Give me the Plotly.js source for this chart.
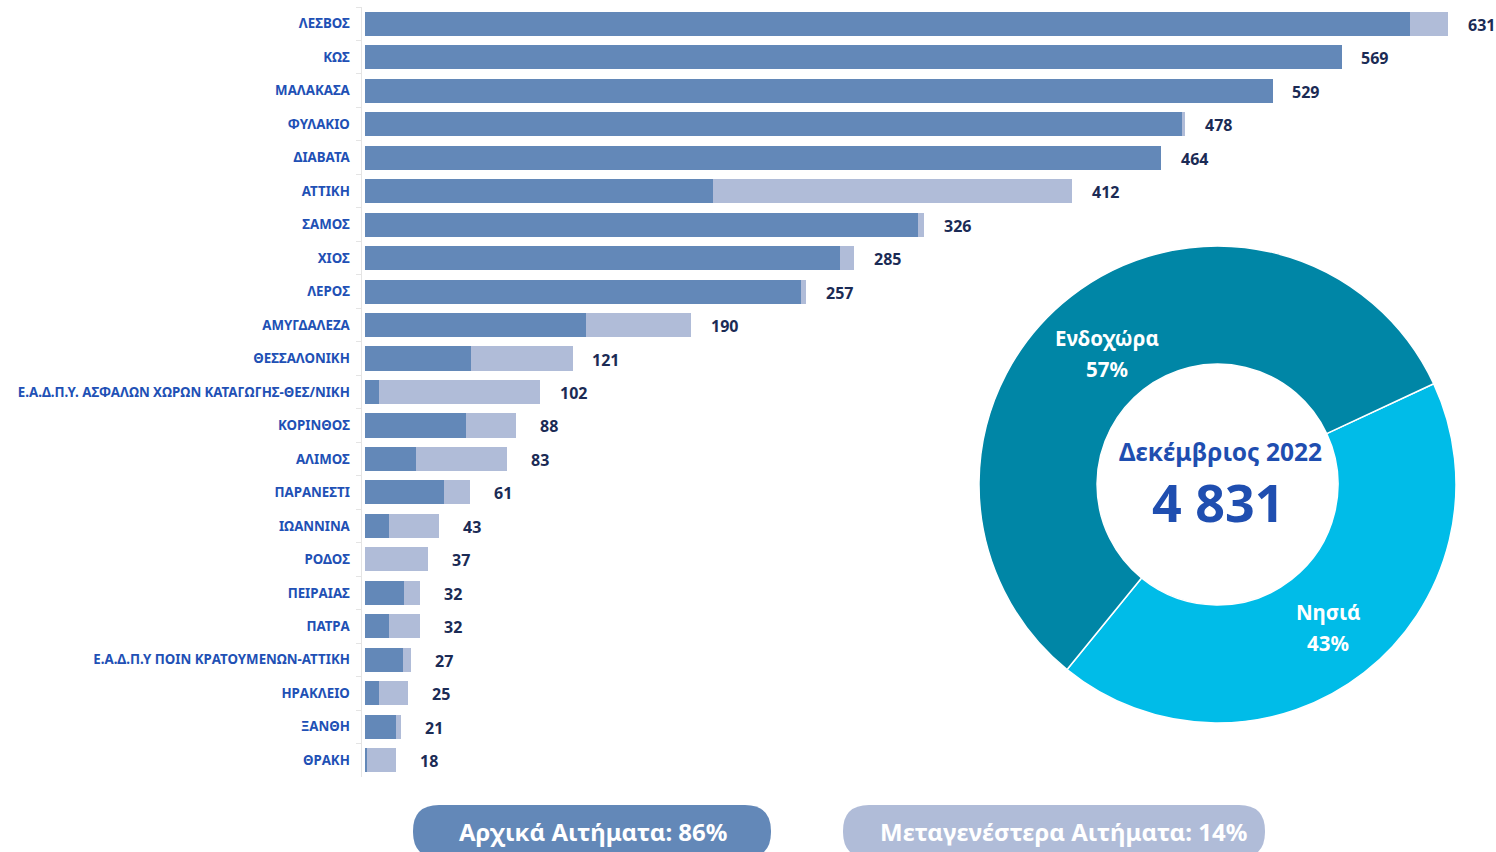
<!DOCTYPE html>
<html>
<head>
<meta charset="utf-8">
<script src="https://cdn.plot.ly/plotly-3.0.1.min.js"></script>
<style>html,body{margin:0;padding:0;background:#fff;}#chart{width:1496px;height:852px;}</style>
</head>
<body>
<div id="chart"></div>
<script>
const categories = ["ΛΕΣΒΟΣ","ΚΩΣ","ΜΑΛΑΚΑΣΑ","ΦΥΛΑΚΙΟ","ΔΙΑΒΑΤΑ","ΑΤΤΙΚΗ","ΣΑΜΟΣ","ΧΙΟΣ","ΛΕΡΟΣ","ΑΜΥΓΔΑΛΕΖΑ","ΘΕΣΣΑΛΟΝΙΚΗ","Ε.Α.Δ.Π.Υ. ΑΣΦΑΛΩΝ ΧΩΡΩΝ ΚΑΤΑΓΩΓΗΣ-ΘΕΣ/ΝΙΚΗ","ΚΟΡΙΝΘΟΣ","ΑΛΙΜΟΣ","ΠΑΡΑΝΕΣΤΙ","ΙΩΑΝΝΙΝΑ","ΡΟΔΟΣ","ΠΕΙΡΑΙΑΣ","ΠΑΤΡΑ","Ε.Α.Δ.Π.Υ ΠΟΙΝ ΚΡΑΤΟΥΜΕΝΩΝ-ΑΤΤΙΚΗ","ΗΡΑΚΛΕΙΟ","ΞΑΝΘΗ","ΘΡΑΚΗ"];
const initialRequests = [609,569,529,476,464,203,322,277,254,129,62,8,59,30,46,14,0,23,14,22,8,18,1];
const laterRequests   = [22,0,0,2,0,209,4,8,3,61,59,94,29,53,15,29,37,9,18,5,17,3,17];
const totals          = [631,569,529,478,464,412,326,285,257,190,121,102,88,83,61,43,37,32,32,27,25,21,18];
const pieLabels = ["Νησιά","Ενδοχώρα"];
const pieValues = [2068,2763];
const centerTitle = "Δεκέμβριος 2022";
const centerTotal = "4 831";
const legendTexts = ["Αρχικά Αιτήματα: 86%","Μεταγενέστερα Αιτήματα: 14%"];

const W = 1496, H = 852;
const px = x => x / W;
const py = y => 1 - y / H;
const FONT = "Noto Sans, Open Sans, sans-serif";
const DARK = "#6388b8", LIGHT = "#b0bcd8";

const traces = [
  {type:"bar", orientation:"h", y:categories, x:initialRequests, marker:{color:DARK}, hoverinfo:"x+y", name:"Αρχικά"},
  {type:"bar", orientation:"h", y:categories, x:laterRequests, marker:{color:LIGHT}, hoverinfo:"x+y", name:"Μεταγενέστερα"},
  {type:"pie", labels:pieLabels, values:pieValues, sort:false, direction:"clockwise", rotation:65,
   hole:0.505, marker:{colors:["#00bce8","#0086a6"], line:{color:"#ffffff", width:1.5}},
   textinfo:"none",
   domain:{x:[px(979),px(1456)], y:[py(723),py(246)]}, showlegend:false}
];

const annotations = totals.map((t,i)=>({
  x:t, y:categories[i], xref:"x", yref:"y", text:String(t), showarrow:false,
  xanchor:"center", yanchor:"middle", xshift:33, yshift:-1,
  font:{family:FONT, size:16, color:"#1b2b55", weight:"bold"}
}));
const pieSum = pieValues.reduce((a,b)=>a+b,0);
const pct = v => Math.round(100*v/pieSum) + "%";
const pieLabelPos = [[1328,612,643],[1107,338,369]];
pieLabels.forEach((lab,i)=>{
  const [cx,y1,y2] = pieLabelPos[i];
  annotations.push({x:px(cx), y:py(y1), xref:"paper", yref:"paper", text:lab, showarrow:false,
    xanchor:"center", yanchor:"middle", font:{family:FONT, size:20.5, color:"#ffffff", weight:"bold"}});
  annotations.push({x:px(cx), y:py(y2), xref:"paper", yref:"paper", text:pct(pieValues[i]), showarrow:false,
    xanchor:"center", yanchor:"middle", font:{family:FONT, size:20.5, color:"#ffffff", weight:"bold"}});
});
annotations.push({x:px(1220), y:py(451), xref:"paper", yref:"paper", text:centerTitle, showarrow:false,
  xanchor:"center", yanchor:"middle", font:{family:FONT, size:24.5, color:"#1f4eb0", weight:"bold"}});
annotations.push({x:px(1218), y:py(502), xref:"paper", yref:"paper", text:centerTotal, showarrow:false,
  xanchor:"center", yanchor:"middle", font:{family:FONT, size:52, color:"#1f4eb0", weight:"bold"}});
annotations.push({x:px(593), y:py(831), xref:"paper", yref:"paper", text:legendTexts[0], showarrow:false,
  xanchor:"center", yanchor:"middle", font:{family:FONT, size:24, color:"#ffffff", weight:"bold"}});
annotations.push({x:px(1063), y:py(831), xref:"paper", yref:"paper", text:legendTexts[1], showarrow:false,
  xanchor:"center", yanchor:"middle", font:{family:FONT, size:24, color:"#ffffff", weight:"bold"}});

function pill(x0,x1,y0,y1,r,color){
  const p = (x,y)=>px(x)+","+py(y);
  const d = "M"+p(x0+r,y0)+" L"+p(x1-r,y0)+" Q"+p(x1,y0)+" "+p(x1,y0+r)+" L"+p(x1,y1-r)+" Q"+p(x1,y1)+" "+p(x1-r,y1)+
            " L"+p(x0+r,y1)+" Q"+p(x0,y1)+" "+p(x0,y1-r)+" L"+p(x0,y0+r)+" Q"+p(x0,y0)+" "+p(x0+r,y0)+" Z";
  return {type:"path", xref:"paper", yref:"paper", path:d, fillcolor:color, line:{width:0}, layer:"below"};
}

const layout = {
  width:W, height:H, margin:{l:0,r:0,t:0,b:0}, paper_bgcolor:"#ffffff", plot_bgcolor:"#ffffff",
  barmode:"stack", bargap:0.28, showlegend:false,
  xaxis:{domain:[px(361.5),px(1448)], range:[-2,631], visible:false, fixedrange:true},
  yaxis:{domain:[py(777),py(7)], autorange:"reversed", type:"category",
    showline:true, linecolor:"#e4e4e4", linewidth:1, ticks:"outside", tickson:"boundaries", ticklen:5, tickcolor:"#e4e4e4",
    ticklabelstandoff:8, tickfont:{family:FONT, size:13.3, color:"#2150b5", weight:"bold"}, showgrid:false, zeroline:false},
  annotations:annotations,
  shapes:[pill(413,771,805,858,26,DARK), pill(843,1265,805,858,26,LIGHT)],
  font:{family:FONT}
};
Plotly.newPlot("chart", traces, layout, {displayModeBar:false, staticPlot:true});
</script>
</body>
</html>
